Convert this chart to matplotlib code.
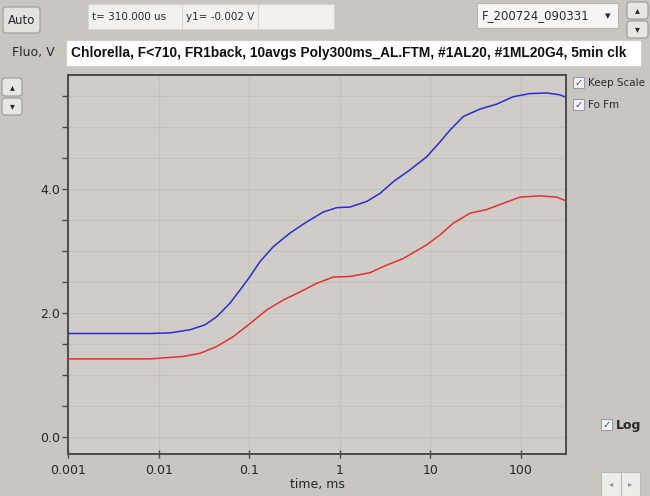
# Fluorescence induction (OJIP) screen: Fo and Fm traces on a log time axis,
# redrawn together with the surrounding controls of the acquisition program

import numpy as np
import matplotlib
matplotlib.use('Agg')
import matplotlib.pyplot as plt
from matplotlib.patches import Rectangle, FancyBboxPatch
from matplotlib.ticker import FixedLocator, NullLocator

# data (time in ms, fluorescence in V)
t_blue = [0.001, 0.00804, 0.01337, 0.02223, 0.0325, 0.04375, 0.0614, 0.0791,
          0.1021, 0.1315, 0.1845, 0.2818, 0.4315, 0.6577, 0.9247, 1.297,
          1.982, 2.780, 3.899, 5.957, 9.099, 12.76, 16.44, 23.07, 35.24,
          53.95, 82.22, 125.6, 192.3, 269.2, 314.0]
v_blue = [1.67, 1.67, 1.68, 1.73, 1.81, 1.94, 2.16, 2.37, 2.59, 2.83, 3.07,
          3.29, 3.47, 3.63, 3.70, 3.71, 3.80, 3.93, 4.12, 4.31, 4.52, 4.76,
          4.95, 5.17, 5.29, 5.37, 5.49, 5.54, 5.55, 5.52, 5.48]
t_red = [0.001, 0.00804, 0.01875, 0.02864, 0.04375, 0.06683, 0.1021, 0.1560,
         0.2377, 0.3639, 0.5559, 0.8472, 1.297, 2.153, 3.020, 5.023, 9.099,
         12.76, 17.91, 27.35, 41.78, 63.83, 97.50, 162.2, 247.7, 314.0]
v_red = [1.26, 1.26, 1.30, 1.35, 1.46, 1.62, 1.83, 2.05, 2.21, 2.34, 2.48,
         2.58, 2.59, 2.65, 2.75, 2.88, 3.10, 3.26, 3.45, 3.61, 3.67, 3.77,
         3.87, 3.89, 3.87, 3.81]

x_ticks = [0.001, 0.01, 0.1, 1, 10, 100]
x_labels = ['0.001', '0.01', '0.1', '1', '10', '100']
y_ticks = [0.0, 2.0, 4.0]
y_minor = [0.5, 1.0, 1.5, 2.5, 3.0, 3.5, 4.5, 5.0, 5.5]

title = 'Chlorella, F<710, FR1back, 10avgs Poly300ms_AL.FTM, #1AL20, #1ML20G4, 5min clk'
file_name = 'F_200724_090331'

W, H = 650, 496
bg = '#c9c6c1'
plot_bg = '#d0cdc8'
grid_col = '#c4c1bc'
txt = '#2a2a2a'

fig = plt.figure(figsize=(W / 100, H / 100), dpi=100, facecolor=bg)

# full-figure axes in pixel units for the program's controls
ui = fig.add_axes([0, 0, 1, 1], zorder=0)
ui.set_xlim(0, W)
ui.set_ylim(H, 0)
ui.axis('off')


def box(x0, y0, x1, y1, fc='white', ec='#a8a6a2', lw=0.8, rounded=False):
    if rounded:
        p = FancyBboxPatch((x0, y0), x1 - x0, y1 - y0,
                           boxstyle='round,pad=0,rounding_size=3',
                           fc=fc, ec=ec, lw=lw)
    else:
        p = Rectangle((x0, y0), x1 - x0, y1 - y0, fc=fc, ec=ec, lw=lw)
    ui.add_patch(p)


# top row
box(3, 7, 40, 33, fc='#e4e2de', ec='#9c9a96', rounded=True)
ui.text(21.5, 20, 'Auto', ha='center', va='center', fontsize=8.5, color=txt)
box(88, 4, 334, 29, fc='#f2f1ee', ec='#d8d6d2')
ui.plot([182, 182], [5, 28], color='#d8d6d2', lw=0.8)
ui.plot([258, 258], [5, 28], color='#d8d6d2', lw=0.8)
ui.text(92, 16.5, 't= 310.000 us', ha='left', va='center', fontsize=7.5,
        color=txt, family='Liberation Sans Narrow')
ui.text(186, 16.5, 'y1= -0.002 V', ha='left', va='center', fontsize=7.5,
        color=txt, family='Liberation Sans Narrow')
box(477, 3, 618, 28, fc='#f6f5f3', ec='#b8b6b2')
ui.text(482, 15.5, file_name, ha='left', va='center', fontsize=8.5, color=txt)
ui.text(608, 16, '\u25be', ha='center', va='center', fontsize=8, color=txt)
box(627, 2, 648, 19, fc='#e8e6e2', ec='#9c9a96', rounded=True)
box(627, 21, 648, 38, fc='#e8e6e2', ec='#9c9a96', rounded=True)
ui.text(637.5, 10.5, '\u25b4', ha='center', va='center', fontsize=7, color=txt)
ui.text(637.5, 29.5, '\u25be', ha='center', va='center', fontsize=7, color=txt)

# second row: y-axis name and title box
ui.text(12, 52.5, 'Fluo, V', ha='left', va='center', fontsize=9, color=txt)
box(66, 40, 641, 66, fc='white', ec='#d0cec9')
ui.text(71, 53, title, ha='left', va='center', fontsize=9.9,
        fontweight='bold', color='#111111', family='Liberation Sans')

# left spinners
box(2, 78, 22, 96, fc='#e8e6e2', ec='#9c9a96', rounded=True)
box(2, 98, 22, 115, fc='#e8e6e2', ec='#9c9a96', rounded=True)
ui.text(12, 87, '\u25b4', ha='center', va='center', fontsize=7, color=txt)
ui.text(12, 106.5, '\u25be', ha='center', va='center', fontsize=7, color=txt)

# check boxes
for (cx, cy, label, fs, fw) in [(573, 77, 'Keep Scale', 7.5, 'normal'),
                                (573, 99, 'Fo Fm', 7.5, 'normal'),
                                (601, 419, 'Log', 9, 'bold')]:
    box(cx, cy, cx + 11, cy + 11, fc='#f4f4f8', ec='#9a9aa8')
    ui.text(cx + 5.5, cy + 6, '\u2713', ha='center', va='center',
            fontsize=7, color='#3040a0', family='DejaVu Sans')
    ui.text(cx + 15, cy + 6, label, ha='left', va='center', fontsize=fs,
            fontweight=fw, color=txt)

# bottom-right scroll buttons
box(601, 472, 621, 497, fc='#eeedea', ec='#bcbab6')
box(621, 472, 640, 497, fc='#eeedea', ec='#bcbab6')
ui.text(611, 484, '\u25c2', ha='center', va='center', fontsize=6, color='#909090')
ui.text(630.5, 484, '\u25b8', ha='center', va='center', fontsize=6, color='#909090')

# the chart itself
ax = fig.add_axes([68 / W, 1 - 454 / H, (566 - 68) / W, (454 - 75) / H], zorder=2)
ax.set_facecolor(plot_bg)
ax.set_xscale('log')
ax.set_xlim(0.001, 314)
ax.set_ylim(-0.274, 5.84)

ax.plot(t_blue, v_blue, color='#2b2bd0', lw=1.1, zorder=3)
ax.plot(t_red, v_red, color='#e33030', lw=1.1, zorder=3)

ax.xaxis.set_major_locator(FixedLocator(x_ticks))
ax.xaxis.set_minor_locator(NullLocator())
ax.set_xticklabels(x_labels)
ax.yaxis.set_major_locator(FixedLocator(y_ticks))
ax.yaxis.set_minor_locator(FixedLocator(y_minor))
ax.set_yticklabels(['%.1f' % v for v in y_ticks])

for v in y_ticks + y_minor:
    ax.axhline(v, color=grid_col, lw=0.8, zorder=1)
for t in x_ticks:
    ax.axvline(t, color=grid_col, lw=0.8, zorder=1)

for side in ['left', 'bottom', 'right', 'top']:
    ax.spines[side].set_color('#4a4a4a')
    ax.spines[side].set_linewidth(1.4)

ax.tick_params(axis='y', which='both', direction='out', length=4, width=1,
               color='#4a4a4a', labelsize=9, labelcolor='#262626', pad=1.5)
ax.tick_params(axis='x', which='major', direction='inout', length=6, width=1,
               color='#4a4a4a', labelsize=9, labelcolor='#262626', pad=4)
ax.set_xlabel('time, ms', fontsize=9, color='#262626', labelpad=1)

fig.savefig('out.png', dpi=100, facecolor=bg)
